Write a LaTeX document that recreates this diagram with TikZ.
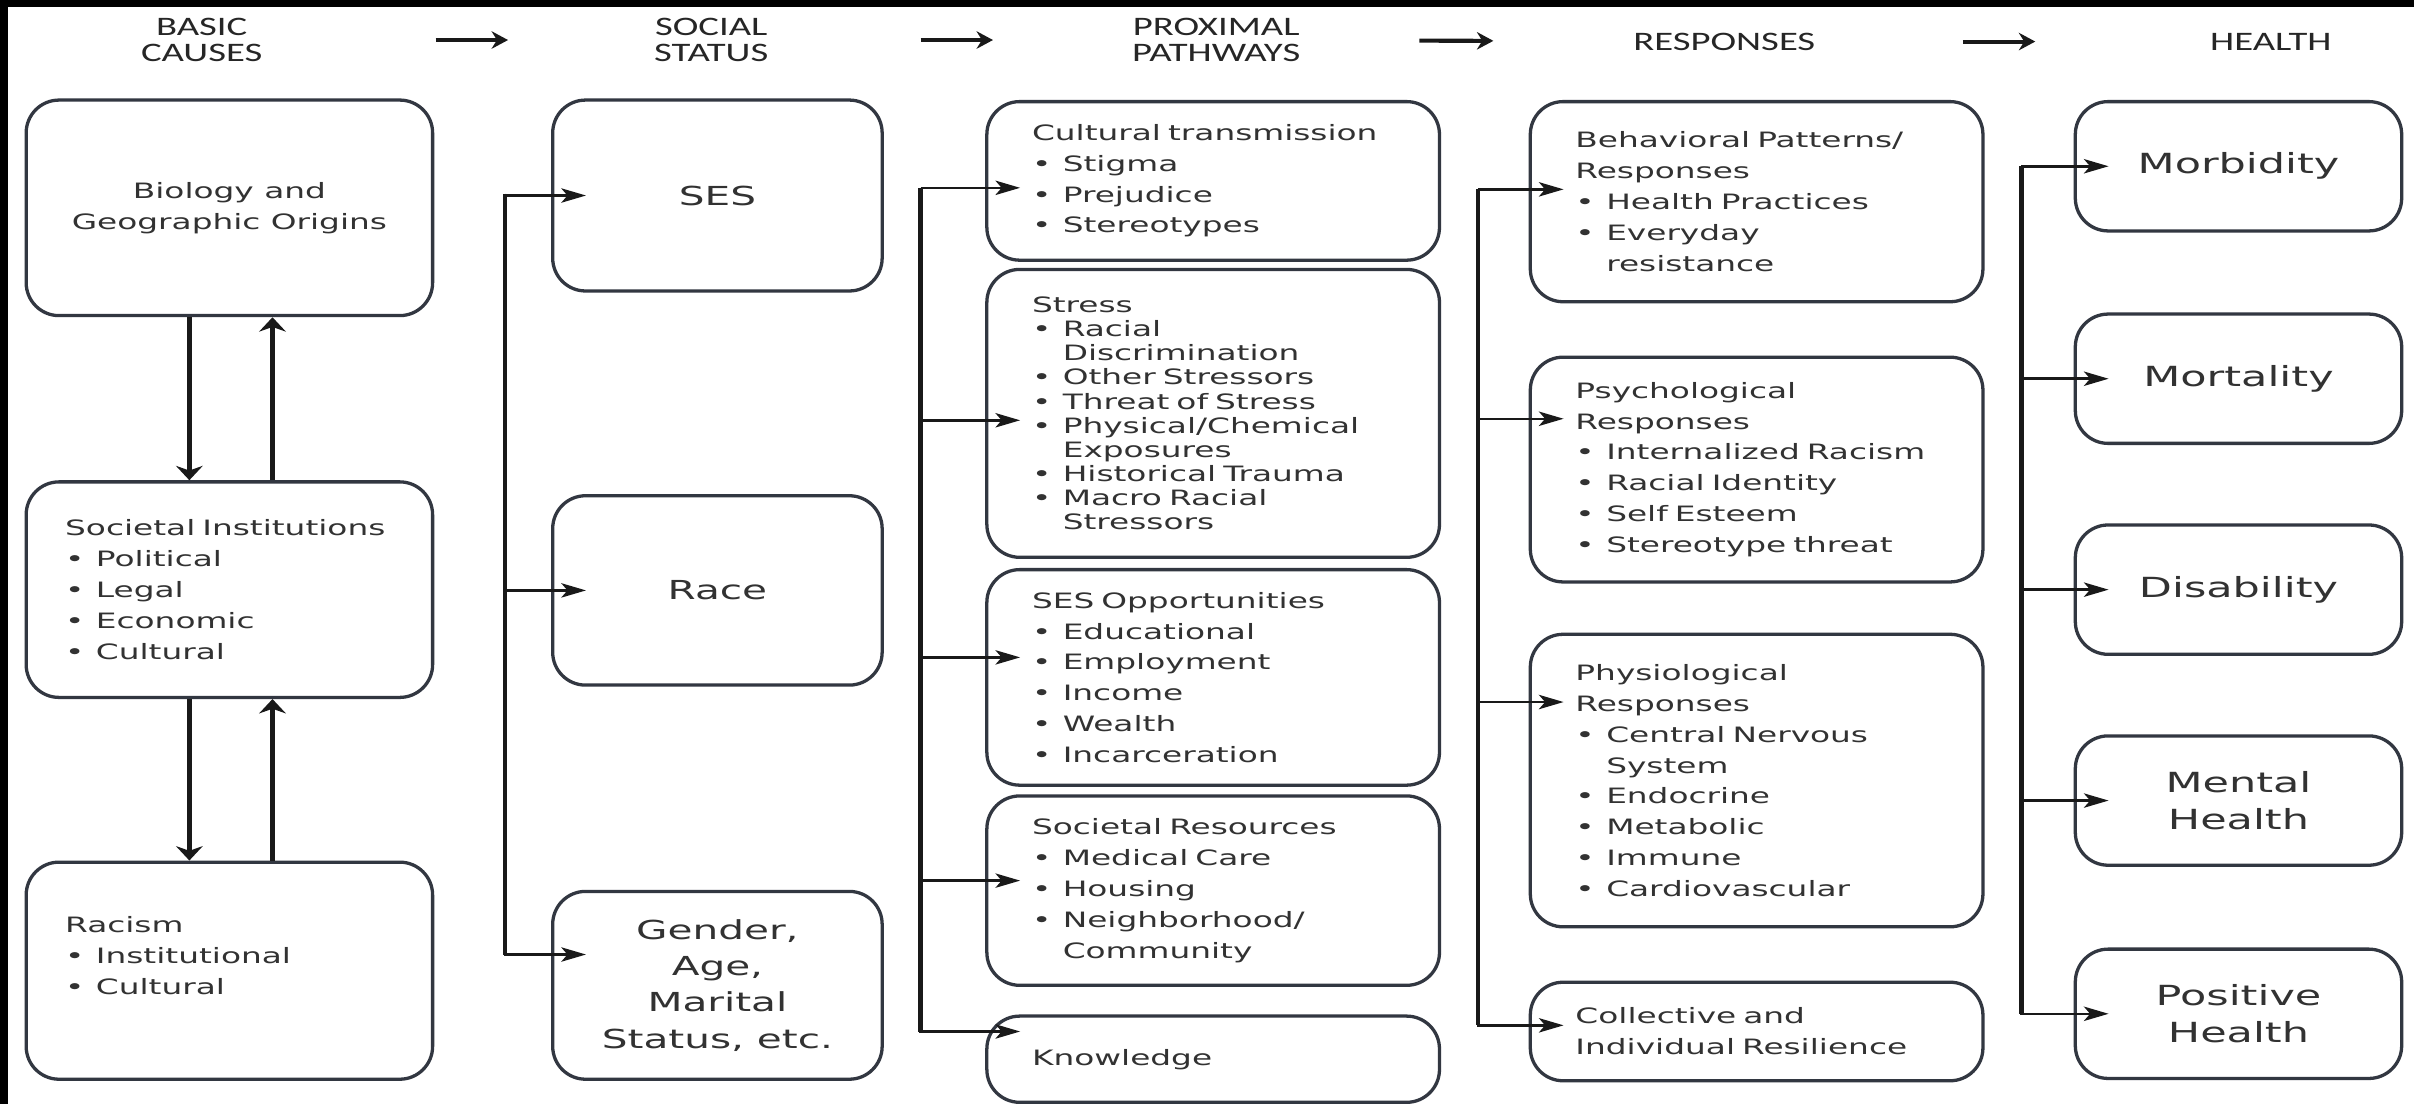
\documentclass[tikz,border=0pt]{standalone}
\usepackage{fontspec}
\usepackage{tikz}
\usetikzlibrary{arrows.meta,calc}

\newfontfamily\boxfont{DejaVu Sans}[FakeStretch=1.55]
\newfontfamily\headfont{Carlito}[FakeStretch=1.45]
\definecolor{boxedge}{RGB}{50,55,65}
\definecolor{inkgray}{RGB}{50,50,50}
\definecolor{linkblack}{RGB}{25,25,25}
\newcommand{\itm}[1]{\makebox[15pt][l]{\textbullet}#1}
\newcommand{\cnt}[1]{\hspace*{15pt}#1}

\begin{document}
\begin{tikzpicture}[x=0.75pt,y=0.75pt,yscale=-1,xscale=1,
  box/.style={draw=boxedge,line width=1.6pt,rounded corners=16pt,fill=white,text=inkgray,inner sep=0pt},
  listbox/.style={box,align=left,inner xsep=22pt,font=\boxfont\fontsize{10.3pt}{15pt}\selectfont},
  midbox/.style={box,align=center,font=\boxfont\fontsize{10.3pt}{15pt}\selectfont},
  bigbox/.style={box,align=center,font=\boxfont\fontsize{12.75pt}{17.75pt}\selectfont},
  head/.style={align=center,text=black!85,font=\headfont\fontsize{13pt}{12.75pt}\selectfont},
  hdrarrow/.style={draw=linkblack,line width=2pt,-{Stealth[length=8pt,width=8.5pt]}},
  updown/.style={draw=linkblack,line width=2.2pt,-{Stealth[length=7pt,width=13pt]}},
  busline/.style={draw=linkblack,line width=2.2pt},
  brarrow/.style={draw=linkblack,line width=1.2pt,shorten >=-17pt,-{Stealth[length=12pt,width=7pt,inset=3pt]}}
]
%Background
\fill[white] (0,0) rectangle (1568,717);
\fill[black] (0,0) rectangle (1568,4.5);
\fill[black] (0,0) rectangle (5.5,717);
\useasboundingbox (0,0) rectangle (1568,717);

% Text Node: headers
\node[head] (hcause) at (131,26) {BASIC\\CAUSES};
\node[head] (hstatus) at (462,26) {SOCIAL\\STATUS};
\node[head] (hpath) at (790,26) {PROXIMAL\\PATHWAYS};
\node[head] (hresp) at (1120,27) {RESPONSES};
\node[head] (hhealth) at (1475,27) {HEALTH};

%Boxes: basic causes
\node[midbox,minimum width=198pt,minimum height=105pt] (bio) at (149,135) {Biology and\\Geographic Origins};
\node[listbox,inner xsep=19pt,text width=160pt,minimum height=105pt] (inst) at (149,383) {Societal Institutions\\\itm{Political}\\\itm{Legal}\\\itm{Economic}\\\itm{Cultural}};
\node[listbox,inner xsep=19pt,text width=160pt,minimum height=105.75pt] (racism) at (149,630.5) {Racism\\\itm{Institutional}\\\itm{Cultural}\\\mbox{}};

%Boxes: social status
\node[bigbox,minimum width=160.5pt,minimum height=93pt] (ses) at (466,127) {SES};
\node[bigbox,minimum width=160.5pt,minimum height=92.25pt] (race) at (466,383.5) {Race};
\node[bigbox,minimum width=160.5pt,minimum height=91.5pt] (gender) at (466,640) {Gender,\\Age,\\Marital\\Status, etc.};

%Boxes: proximal pathways
\node[listbox,text width=176.5pt,minimum height=77.25pt] (cult) at (788,117.5) {Cultural transmission\\\itm{Stigma}\\\itm{Prejudice}\\\itm{Stereotypes}};
\node[listbox,font=\boxfont\fontsize{10.3pt}{11.75pt}\selectfont,text width=176.5pt,minimum height=140.25pt] (stress) at (788,268.5) {Stress\\\itm{Racial}\\\cnt{Discrimination}\\\itm{Other Stressors}\\\itm{Threat of Stress}\\\itm{Physical/Chemical}\\\cnt{Exposures}\\\itm{Historical Trauma}\\\itm{Macro Racial}\\\cnt{Stressors}};
\node[listbox,text width=176.5pt,minimum height=105pt] (sesopp) at (788,440) {SES Opportunities\\\itm{Educational}\\\itm{Employment}\\\itm{Income}\\\itm{Wealth}\\\itm{Incarceration}};
\node[listbox,text width=176.5pt,minimum height=92.25pt] (socres) at (788,578.5) {Societal Resources\\\itm{Medical Care}\\\itm{Housing}\\\itm{Neighborhood/}\\\cnt{Community}};
\node[listbox,text width=176.5pt,minimum height=42pt] (knowl) at (788,688) {Knowledge};

%Boxes: responses
\node[listbox,text width=176.5pt,minimum height=97.5pt] (behav) at (1141,131) {Behavioral Patterns/\\Responses\\\itm{Health Practices}\\\itm{Everyday}\\\cnt{resistance}};
\node[listbox,text width=176.5pt,minimum height=109.5pt] (psych) at (1141,305) {Psychological\\Responses\\\itm{Internalized Racism}\\\itm{Racial Identity}\\\itm{Self Esteem}\\\itm{Stereotype threat}};
\node[listbox,text width=176.5pt,minimum height=142.5pt] (physio) at (1141,507) {Physiological\\Responses\\\itm{Central Nervous}\\\cnt{System}\\\itm{Endocrine}\\\itm{Metabolic}\\\itm{Immune}\\\itm{Cardiovascular}};
\node[listbox,text width=176.5pt,minimum height=48pt] (collect) at (1141,670) {Collective and\\Individual Resilience};

%Boxes: health
\tikzset{hbox/.style={bigbox,font=\boxfont\fontsize{13.5pt}{18pt}\selectfont,minimum width=159pt,minimum height=63pt}}
\node[hbox] (morb) at (1454,108) {Morbidity};
\node[hbox] (mort) at (1454,246) {Mortality};
\node[hbox] (disab) at (1454,383) {Disability};
\node[hbox] (mental) at (1454,520) {Mental\\Health};
\node[hbox] (posit) at (1454,658.5) {Positive\\Health};

%Arrows: headers
\draw[hdrarrow,shorten <=114pt,shorten >=99pt] (hcause.center) -- (hstatus.center);
\draw[hdrarrow,shorten <=102pt,shorten >=108.75pt] (hstatus.center) -- (hpath.center);
\draw[hdrarrow,shorten <=99pt,shorten >=112.5pt] (hpath.center) -- (hresp.center);
\draw[hdrarrow,shorten <=116.25pt,shorten >=114.75pt] (hresp.center) -- (hhealth.center);

%Arrows: basic causes
\draw[updown] ([xshift=-19.5pt]bio.south) -- ([xshift=-19.5pt]inst.north);
\draw[updown] ([xshift=21pt]inst.north) -- ([xshift=21pt]bio.south);
\draw[updown] ([xshift=-19.5pt]inst.south) -- ([xshift=-19.5pt]racism.north);
\draw[updown] ([xshift=21pt]racism.north) -- ([xshift=21pt]inst.south);

%Bus: social status
\coordinate (sbus) at (328,126);
\coordinate (tgender) at ($(gender.west)+(0,-20)$);
\draw[busline] (sbus) -- (sbus |- tgender);
\foreach \t in {ses.west,race.west,tgender}
  \draw[brarrow] (sbus) |- (\t);

%Bus: proximal pathways
\coordinate (pbus) at (598,122);
\coordinate (tcult) at ($(cult.west)+(0,4.5)$);
\coordinate (tstress) at ($(stress.west)+(0,4.5)$);
\coordinate (tsesopp) at ($(sesopp.west)+(0,-13)$);
\coordinate (tsocres) at ($(socres.west)+(0,-6.5)$);
\coordinate (tknowl) at ($(knowl.west)+(0,-18)$);
\draw[busline] (pbus) -- (pbus |- tknowl);
\foreach \t in {tcult,tstress,tsesopp,tsocres,tknowl}
  \draw[brarrow] (pbus) |- (\t);

%Bus: responses
\coordinate (rbus) at (960,123);
\coordinate (tbehav) at ($(behav.west)+(0,-8)$);
\coordinate (tpsych) at ($(psych.west)+(0,-33)$);
\coordinate (tphysio) at ($(physio.west)+(0,-51)$);
\coordinate (tcoll) at ($(collect.west)+(0,-4)$);
\draw[busline] (rbus) -- (rbus |- tcoll);
\foreach \t in {tbehav,tpsych,tphysio,tcoll}
  \draw[brarrow] (rbus) |- (\t);

%Bus: health
\coordinate (hbus) at (1313,108);
\draw[busline] (hbus) -- (hbus |- posit.west);
\foreach \t in {morb.west,mort.west,disab.west,mental.west,posit.west}
  \draw[brarrow] (hbus) |- (\t);

\end{tikzpicture}
\end{document}
